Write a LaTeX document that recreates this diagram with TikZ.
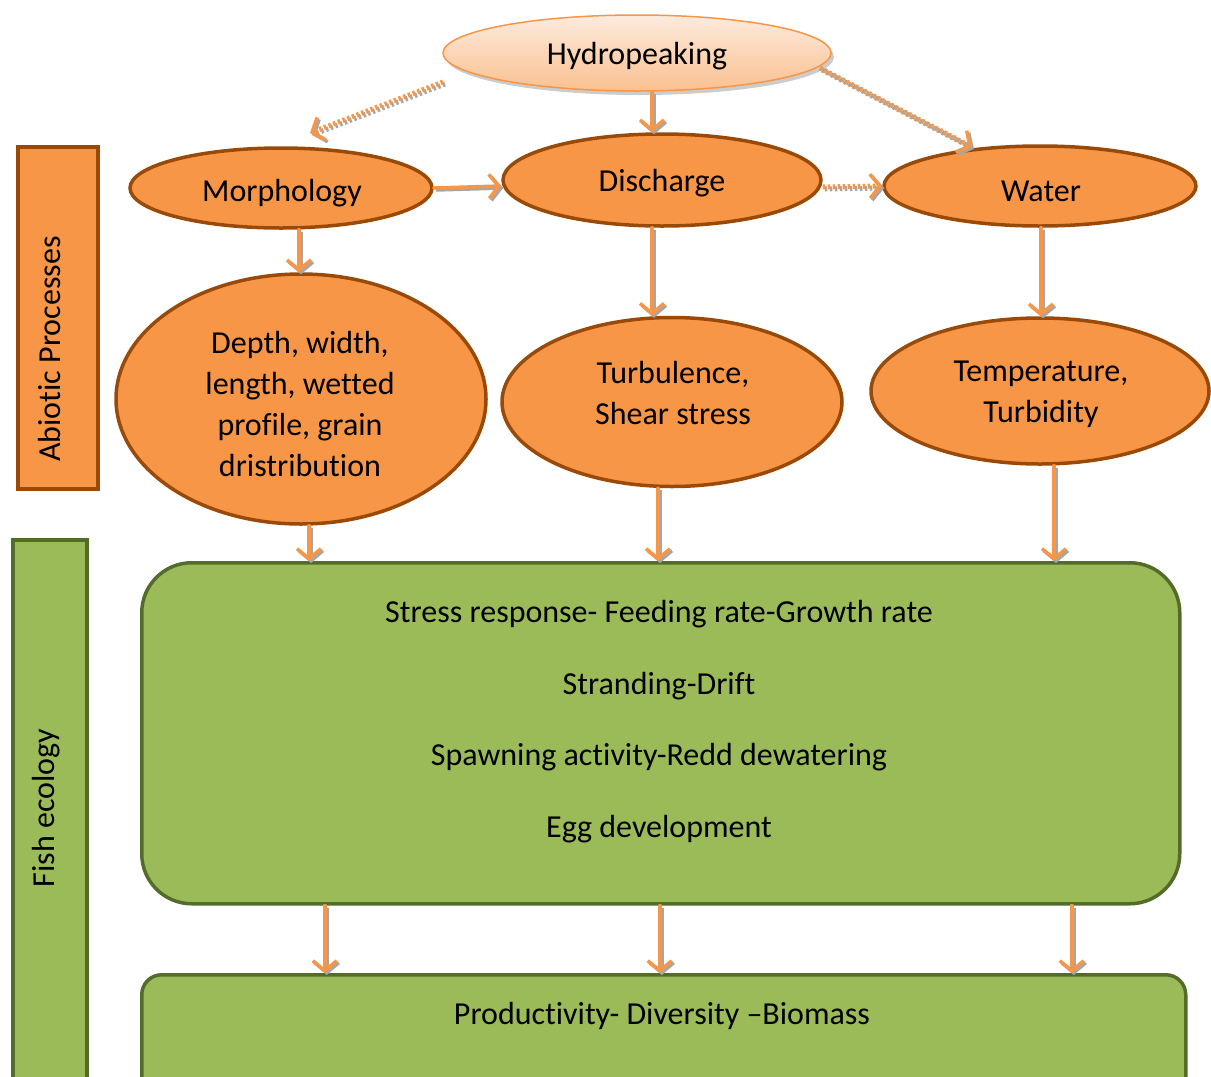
\documentclass[tikz,border=0pt]{standalone}
\usepackage{fontspec}
\setmainfont{Carlito}[Ligatures=NoCommon]
\usetikzlibrary{shapes.geometric,arrows.meta,shadows}
\definecolor{orfill}{HTML}{F79646}
\definecolor{orline}{HTML}{9A4A08}
\definecolor{grfill}{HTML}{9BBB59}
\definecolor{grline}{HTML}{536B2B}
\definecolor{arr}{HTML}{F79646}
\definecolor{pkTop}{HTML}{FDEBDD}
\definecolor{pkBot}{HTML}{FAC090}
\tikzset{
  oell/.style={ellipse, draw=orline, fill=orfill, line width=3.5pt, inner sep=0pt},
  bar/.style={draw, line width=3.5pt, inner sep=0pt, anchor=north west},
  gbox/.style={draw=grline, fill=grfill, line width=3.5pt, rounded corners=#1, inner sep=0pt, anchor=north west},
  conn/.style={draw=arr, line width=3.5pt, line cap=round, -{Straight Barb[length=10pt,width=24pt,line width=3.5pt]},
     preaction={draw=black!35, line width=3.5pt, transform canvas={shift={(2pt,-2pt)}}}},
  dconn/.style={draw=arr, line width=5pt, dash pattern=on 2.5pt off 2.5pt, -{Straight Barb[length=10pt,width=24pt,line width=3.5pt]},
     preaction={draw=black!35, line width=5pt, dash pattern=on 2.5pt off 2.5pt, transform canvas={shift={(2pt,-2pt)}}}},
  txt/.style={font=\fontsize{32}{41}\selectfont, align=center, inner sep=0pt},
  htxt/.style={txt, yshift=-3pt}
}
\begin{document}
\begin{tikzpicture}[x=1pt,y=-1pt]
\useasboundingbox (0,0) rectangle (1211,1077);
% side bars
\node[bar, draw=orline, fill=orfill, minimum width=80pt, minimum height=342pt] (abar) at (16,145) {};
\node[rotate=90, txt] (atxt) at (50,349) {Abiotic Processes};
\node[bar, draw=grline, fill=grfill, minimum width=74pt, minimum height=560pt] (fbar) at (11,538) {};
\node[rotate=90, txt] (ftxt) at (46,808) {Fish ecology};
% top ellipse
\node[ellipse, draw=arr, line width=1.5pt, top color=pkTop, bottom color=pkBot, minimum width=388pt, minimum height=76pt, inner sep=0pt,
  drop shadow={shadow xshift=3pt, shadow yshift=-4pt, fill=black!40, opacity=0.5}] (hyd) at (637,53) {};
\node[htxt] (hydT) at (637,53) {Hydropeaking};
% second row
\node[oell, minimum width=302pt, minimum height=80pt] (morph) at (281,188) {};
\node[htxt] (morphT) at (282,190) {Morphology};
\node[oell, minimum width=318pt, minimum height=92pt] (dis) at (662,180) {};
\node[htxt] (disT) at (662,180) {Discharge};
\node[oell, minimum width=312pt, minimum height=80pt] (wat) at (1040,186) {};
\node[htxt] (watT) at (1041,188) {Water};
% third row
\node[oell, minimum width=370pt, minimum height=250pt] (depth) at (301,399) {};
\node[htxt] (depthT) at (300,401) {Depth, width,\\length, wetted\\profile, grain\\dristribution};
\node[oell, minimum width=340pt, minimum height=169pt] (turb) at (672,402) {};
\node[htxt] (turbT) at (673,390) {Turbulence,\\Shear stress};
\node[oell, minimum width=338pt, minimum height=146pt] (temp) at (1040,391) {};
\node[htxt] (tempT) at (1041,391) {Temperature,\\Turbidity};
% green boxes
\node[gbox=50pt, minimum width=1038pt, minimum height=341pt] (box) at (140,561) {};
\node[htxt] (b1) at (659,611) {Stress response- Feeding rate-Growth rate};
\node[htxt] (b2) at (659,683) {Stranding-Drift};
\node[htxt] (b3) at (659,754) {Spawning activity-Redd dewatering};
\node[htxt] (b4) at (659,826) {Egg development};
\node[gbox=20pt, minimum width=1044pt, minimum height=130pt] (bot) at (140,973) {};
\node[htxt] (bt) at (662,1013) {Productivity- Diversity –Biomass};
% connectors
\draw[dconn] ([xshift=-194pt,yshift=-29pt]hyd.center) -- ([xshift=29pt,yshift=55pt]morph.center);
\draw[conn] ([xshift=15pt]hyd.south) -- ([xshift=-10pt]dis.north);
\draw[dconn] ([xshift=183pt,yshift=-15pt]hyd.center) -- ([xshift=-68pt,yshift=39pt]wat.center);
\draw[conn] (morph.east) -- ([yshift=-6pt]dis.west);
\draw[dconn] ([yshift=-7pt]dis.east) -- (wat.west);
\draw[conn] ([xshift=18pt]morph.south) -- ([xshift=-2pt]depth.north);
\draw[conn] ([xshift=-10pt]dis.south) -- ([xshift=-20pt]turb.north);
\draw[conn] ([xshift=1pt]wat.south) -- ([xshift=1pt]temp.north);
\path ([xshift=8pt]depth.south) coordinate (d1);
\path ([xshift=-14pt]turb.south) coordinate (d2);
\path ([xshift=14pt]temp.south) coordinate (d3);
\draw[conn] (d1) -- (d1 |- box.north);
\draw[conn] (d2) -- (d2 |- box.north);
\draw[conn] (d3) -- (d3 |- box.north);
\path ([xshift=-336pt]box.south) coordinate (e1);
\path ([xshift=-1pt]box.south) coordinate (e2);
\path ([xshift=411pt]box.south) coordinate (e3);
\draw[conn] (e1) -- (e1 |- bot.north);
\draw[conn] (e2) -- (e2 |- bot.north);
\draw[conn] (e3) -- (e3 |- bot.north);
\end{tikzpicture}
\end{document}
